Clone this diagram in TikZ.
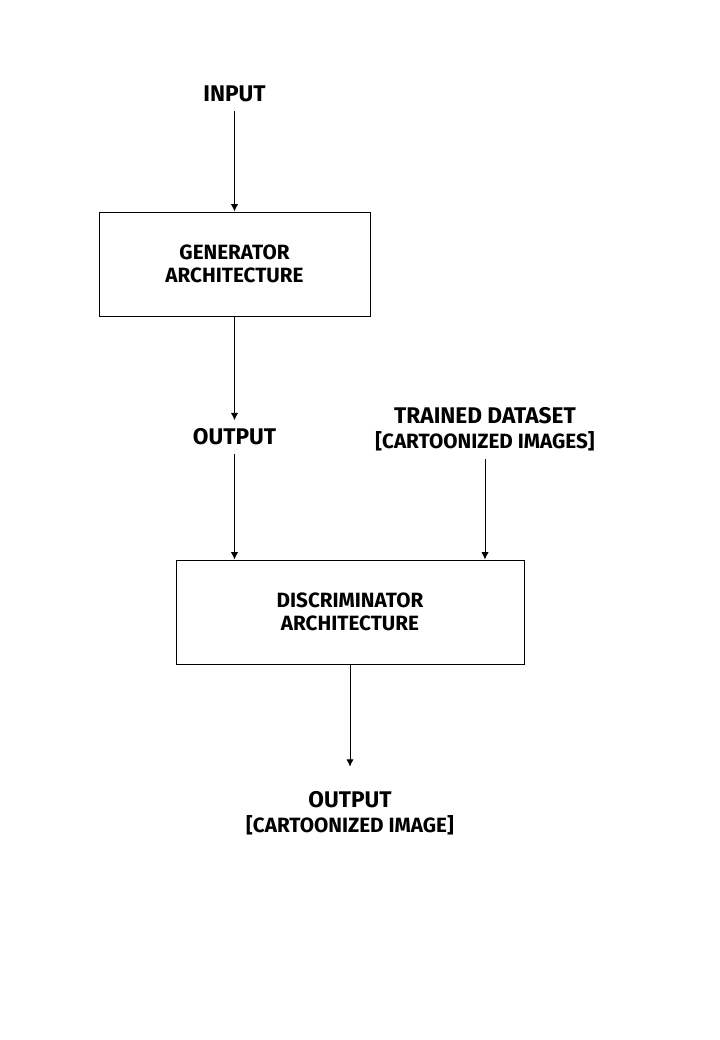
\documentclass[tikz,border=0pt]{standalone}
\usepackage{fontspec}
\setmainfont{Fira Sans}
\usetikzlibrary{arrows.meta}
\begin{document}
\begin{tikzpicture}[x=0.75pt,y=-0.75pt,>={Latex[length=5.5pt,width=5.5pt]},line width=0.75pt,font=\bfseries]
        \tikzset{
            block/.style={draw,align=center,minimum height=78pt,font=\fontsize{15.5}{17.25}\bfseries},
            caption/.style={align=center,inner sep=6pt,font=\fontsize{17}{18.75}\bfseries}
        }
        \useasboundingbox (0,0) rectangle (720,1040);

        % the texts and the two boxes
        \node[caption] (input) at (234.5,94) {INPUT};
        \node[block,minimum width=203.25pt] (gen) at (234.5,264) {GENERATOR\\ARCHITECTURE};
        \node[caption] (out1) at (234.5,437) {OUTPUT};
        \node[caption] (data) at (485,429) {TRAINED DATASET\\{\fontsize{15.5}{15}\bfseries[CARTOONIZED IMAGES]}};
        \node[block,minimum width=261pt] (disc) at (350,612) {DISCRIMINATOR\\ARCHITECTURE};
        \node[caption] (out2) at (350,813) {OUTPUT\\{\fontsize{15.5}{15}\bfseries[CARTOONIZED IMAGE]}};

        % the arrows
        \draw[->] (input) -- (gen);
        \draw[->] (gen) -- (out1);
        \draw[->] (out1) -- (out1 |- disc.north);
        \draw[->] (data) -- (data |- disc.north);
        \draw[->,shorten >=12pt] (disc) -- (out2);
\end{tikzpicture}
\end{document}
